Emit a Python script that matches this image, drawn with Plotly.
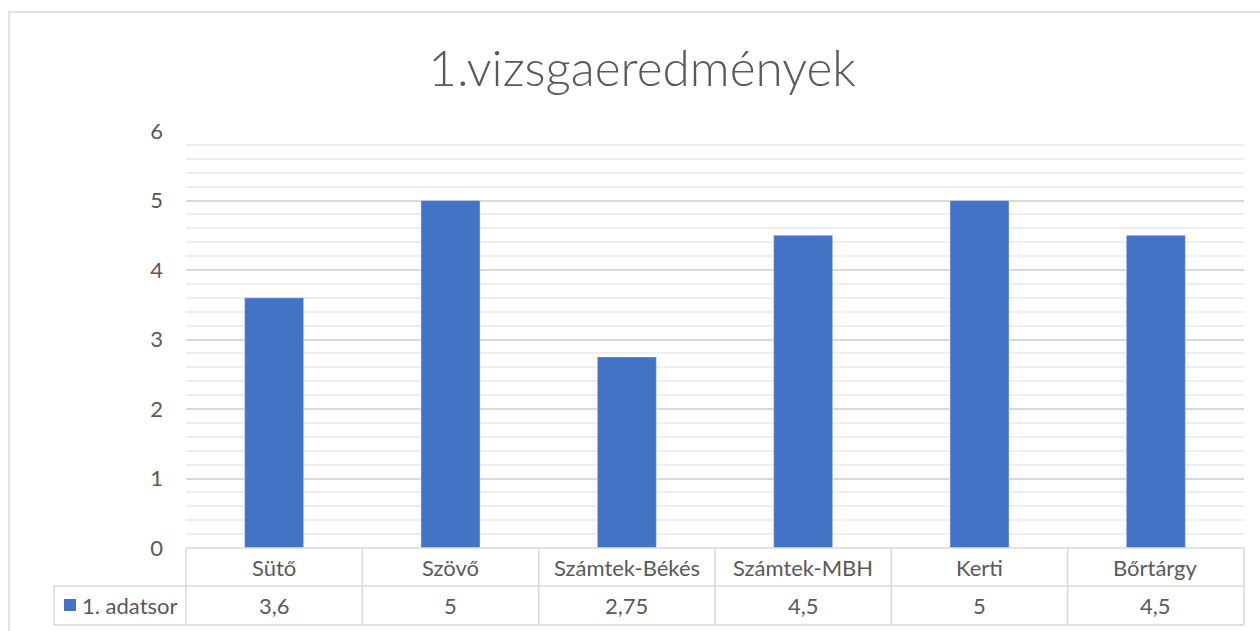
import plotly.graph_objects as go

categories = ["Sütő", "Szövő", "Számtek-Békés", "Számtek-MBH", "Kerti", "Bőrtárgy"]
values = [3.6, 5, 2.75, 4.5, 5, 4.5]
value_labels = ["3,6", "5", "2,75", "4,5", "5", "4,5"]
series_name = "1. adatsor"
title_text = "1.vizsgaeredmények"

W, H = 1260, 631
L, R, T, B = 186, 16, 131, 83
PW, PH = W - L - R, H - T - B

def px_x(x):
    return (x - L) / PW

def px_y(y):
    return (H - B - y) / PH

BAR = "#4472C4"
GRID = "#d9d9d9"
TXT = "#595959"
FONT = "Lato"
FS = 22

fig = go.Figure(go.Bar(x=categories, y=values, marker_color=BAR, width=0.335, name=series_name))

shapes = []
line = dict(color=GRID, width=1.5)
# outer chart border
shapes.append(dict(type="rect", xref="paper", yref="paper", x0=px_x(9), x1=px_x(1275), y0=px_y(645), y1=px_y(12), line=dict(color="#d9d9d9", width=1.5)))
# table horizontal lines
shapes.append(dict(type="line", xref="paper", yref="paper", x0=0, x1=1, y0=px_y(548), y1=px_y(548), line=line))
shapes.append(dict(type="line", xref="paper", yref="paper", x0=px_x(54), x1=1, y0=px_y(586), y1=px_y(586), line=line))
shapes.append(dict(type="line", xref="paper", yref="paper", x0=px_x(54), x1=1, y0=px_y(625), y1=px_y(625), line=line))
# table vertical lines
shapes.append(dict(type="line", xref="paper", yref="paper", x0=px_x(54), x1=px_x(54), y0=px_y(586), y1=px_y(625), line=line))
n = len(categories)
for i in range(n + 1):
    xp = i / n
    shapes.append(dict(type="line", xref="paper", yref="paper", x0=xp, x1=xp, y0=px_y(548), y1=px_y(625), line=line))
# legend key
shapes.append(dict(type="rect", xref="paper", yref="paper", x0=px_x(64), x1=px_x(76), y0=px_y(611), y1=px_y(599), fillcolor=BAR, line=dict(width=0)))

annotations = []
for i, (c, v) in enumerate(zip(categories, value_labels)):
    annotations.append(dict(x=c, xref="x", y=px_y(567), yref="paper", text=c, showarrow=False,
                            font=dict(size=FS, color=TXT, family=FONT), yanchor="middle"))
    annotations.append(dict(x=c, xref="x", y=px_y(605), yref="paper", text=v, showarrow=False,
                            font=dict(size=FS, color=TXT, family=FONT), yanchor="middle"))
annotations.append(dict(x=px_x(80), xref="paper", y=px_y(605), yref="paper", text=series_name, showarrow=False,
                        xanchor="left", yanchor="middle", font=dict(size=FS, color=TXT, family=FONT)))

fig.update_layout(
    width=W, height=H,
    margin=dict(l=L, r=R, t=T, b=B),
    paper_bgcolor="white", plot_bgcolor="white",
    showlegend=False,
    title=dict(text=title_text, x=642 / W, xanchor="center", y=1 - 69 / H, yanchor="middle",
               font=dict(size=49.5, color=TXT, family=FONT, weight=300)),
    font=dict(family=FONT, color=TXT),
    shapes=shapes,
    annotations=annotations,
    bargap=0.665,
)
fig.update_xaxes(showticklabels=False, showgrid=False, zeroline=False, showline=False, ticks="")
fig.update_yaxes(range=[0, 6], dtick=1, showgrid=True, gridcolor=GRID, gridwidth=1.5,
                 minor=dict(dtick=0.2, showgrid=True, gridcolor="#eeeeee", gridwidth=1.5),
                 zeroline=False, showline=False, ticks="", ticklabelstandoff=22,
                 tickfont=dict(size=FS, color=TXT, family=FONT))

fig.write_html("out.html", config={"displayModeBar": False},
               post_script="document.body.style.margin='0';document.body.style.overflow='hidden';")
